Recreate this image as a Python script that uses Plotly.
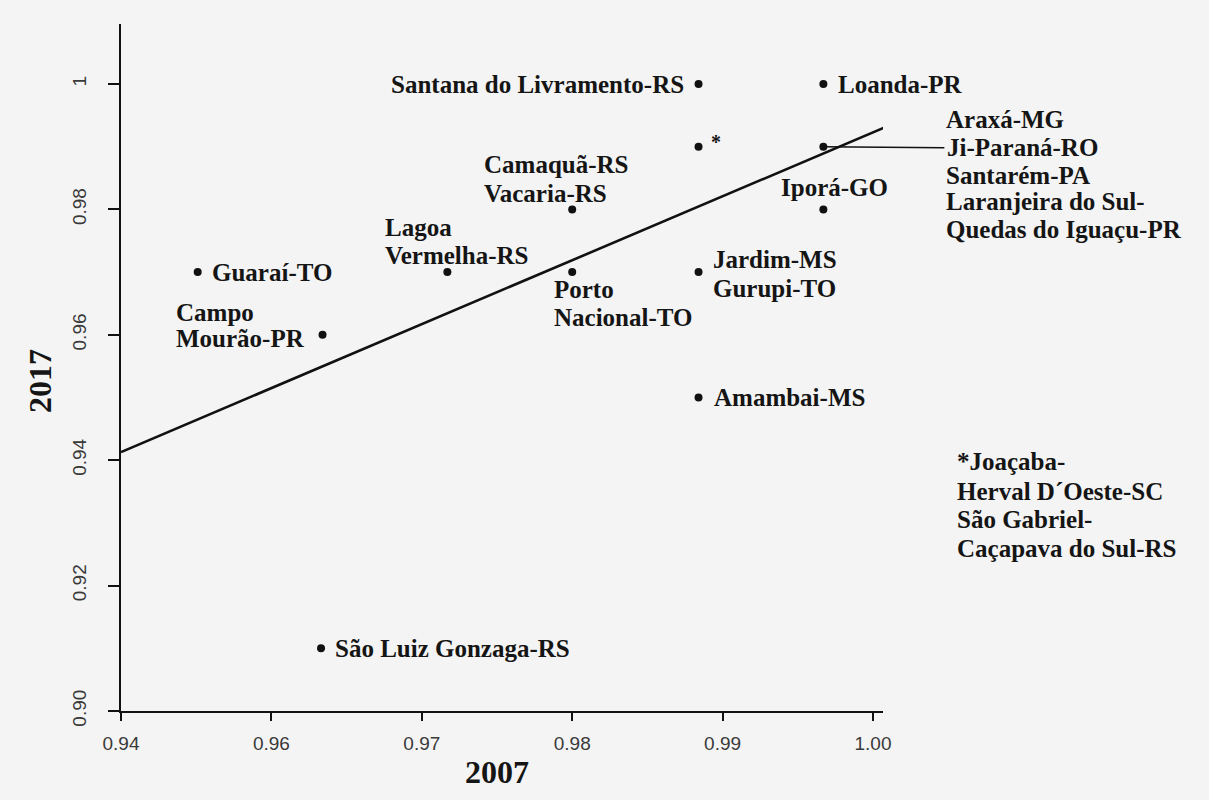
import plotly.graph_objects as go

# ---------------- data ----------------
point_labels = [
    ["Santana do Livramento-RS"],
    ["Loanda-PR"],
    ["*"],
    ["Araxá-MG", "Ji-Paraná-RO", "Santarém-PA", "Laranjeira do Sul-", "Quedas do Iguaçu-PR"],
    ["Iporá-GO"],
    ["Camaquã-RS", "Vacaria-RS"],
    ["Lagoa", "Vermelha-RS"],
    ["Guaraí-TO"],
    ["Porto", "Nacional-TO"],
    ["Jardim-MS", "Gurupi-TO"],
    ["Campo", "Mourão-PR"],
    ["Amambai-MS"],
    ["São Luiz Gonzaga-RS"],
]
x_2007 = [0.9884, 0.9967, 0.9884, 0.9967, 0.9967, 0.9800, 0.9717,
          0.9551, 0.9800, 0.9884, 0.9634, 0.9884, 0.9633]
y_2017 = [1.00, 1.00, 0.99, 0.99, 0.98, 0.98, 0.97,
          0.97, 0.97, 0.97, 0.96, 0.95, 0.91]

trend_x = [0.95, 1.0008]
trend_y = [0.9413, 0.9931]

x_tick_vals = [0.95, 0.96, 0.97, 0.98, 0.99, 1.00]
x_tick_text = ["0.94", "0.96", "0.97", "0.98", "0.99", "1.00"]
y_tick_vals = [0.90, 0.92, 0.94, 0.96, 0.98, 1.00]
y_tick_text = ["0.90", "0.92", "0.94", "0.96", "0.98", "1"]

footnote_lines = ["*Joaçaba-", "Herval D´Oeste-SC", "São Gabriel-", "Caçapava do Sul-RS"]
x_title = "2007"
y_title = "2017"

# ---------------- label placement (pixels relative to each dot) ----------------
# (xanchor, xshift, [yshift per line])
placement = [
    ("right", -13, [0]),
    ("left", 13, [0]),
    ("left", 10, [5]),
    ("left", 121, [27, -1, -29, -55, -83]),
    ("center", 11, [22]),
    ("left", -90, [45, 16]),
    ("left", -64, [45, 17]),
    ("left", 12, [0]),
    ("left", -20, [-17, -45]),
    ("left", 12, [13, -16]),
    ("left", -149, [22, -4]),
    ("left", 13, [0]),
    ("left", 12, [0]),
]
leader_line = ("Ji-Paraná-RO", 121)

W, H = 1209, 800
ML, MR, MT, MB = 121, 326, 24, 89
PW, PH = W - ML - MR, H - MT - MB

XMIN, XMAX = 0.95, 0.95 + PW / 15040.0
YMIN, YMAX = 0.90, 0.90 + PH / 6270.0

BG = "#f4f4f4"
LABEL_FONT = dict(family="Liberation Serif", size=25, color="#151515")
STAR_FONT = dict(family="Liberation Serif", size=20, color="#151515")
TICK_FONT = dict(family="Liberation Sans", size=19, color="#3a3a3a")

fig = go.Figure()
fig.add_trace(go.Scatter(x=trend_x, y=trend_y, mode="lines",
                         line=dict(color="#111111", width=2.6),
                         hoverinfo="skip", showlegend=False))
fig.add_trace(go.Scatter(x=x_2007, y=y_2017, mode="markers",
                         marker=dict(color="#111111", size=8),
                         hoverinfo="skip", showlegend=False, cliponaxis=False))

annotations = []
for lines, xv, yv, (anc, xs, yss) in zip(point_labels, x_2007, y_2017, placement):
    for line, ys in zip(lines, yss):
        if line == leader_line[0]:
            annotations.append(dict(
                x=xv, y=yv, xref="x", yref="y", text="<b>%s</b>" % line,
                showarrow=True, arrowhead=0, arrowwidth=1.5, arrowcolor="#111111",
                ax=leader_line[1], ay=-ys, xanchor="left", yanchor="middle",
                standoff=0, borderpad=2, font=LABEL_FONT))
        else:
            annotations.append(dict(
                x=xv, y=yv, xref="x", yref="y", text="<b>%s</b>" % line,
                showarrow=False, xanchor=anc, yanchor="middle",
                xshift=xs, yshift=ys,
                font=STAR_FONT if line == "*" else LABEL_FONT))


def px_to_paper(px, py):
    return (px - ML) / PW, (H - MB - py) / PH


foot_y = [462, 491, 519, 548]
for line, py in zip(footnote_lines, foot_y):
    xp, yp = px_to_paper(955, py)
    annotations.append(dict(x=xp, y=yp, xref="paper", yref="paper",
                            text="<b>%s</b>" % line, showarrow=False,
                            xanchor="left", yanchor="middle", font=LABEL_FONT))

xp, yp = px_to_paper(497, 772)
annotations.append(dict(x=xp, y=yp, xref="paper", yref="paper",
                        text="<b>%s</b>" % x_title, showarrow=False,
                        xanchor="center", yanchor="middle",
                        font=dict(family="Liberation Serif", size=32, color="#151515")))
xp, yp = px_to_paper(40, 381)
annotations.append(dict(x=xp, y=yp, xref="paper", yref="paper",
                        text="<b>%s</b>" % y_title, showarrow=False, textangle=-90,
                        xanchor="center", yanchor="middle",
                        font=dict(family="Liberation Serif", size=32, color="#151515")))

fig.update_layout(
    width=W, height=H,
    margin=dict(l=ML, r=MR, t=MT, b=MB, pad=0),
    paper_bgcolor=BG, plot_bgcolor=BG,
    showlegend=False,
    annotations=annotations,
    xaxis=dict(range=[XMIN, XMAX], tickvals=x_tick_vals, ticktext=x_tick_text,
               showgrid=False, zeroline=False, showline=True, linecolor="#111111",
               linewidth=2, ticks="outside", ticklen=8, tickwidth=2, tickcolor="#111111",
               tickfont=TICK_FONT, ticklabelstandoff=6),
    yaxis=dict(range=[YMIN, YMAX], tickvals=y_tick_vals, ticktext=y_tick_text,
               showgrid=False, zeroline=False, showline=True, linecolor="#111111",
               linewidth=2, ticks="outside", ticklen=11, tickwidth=2, tickcolor="#111111",
               tickfont=TICK_FONT, tickangle=-90, ticklabelstandoff=14),
)

fig.write_html(
    "out.html",
    config={"displayModeBar": False},
    post_script="document.body.style.margin='0';document.body.style.padding='0';"
                "document.body.style.background='%s';document.body.style.overflow='hidden';" % BG,
)
